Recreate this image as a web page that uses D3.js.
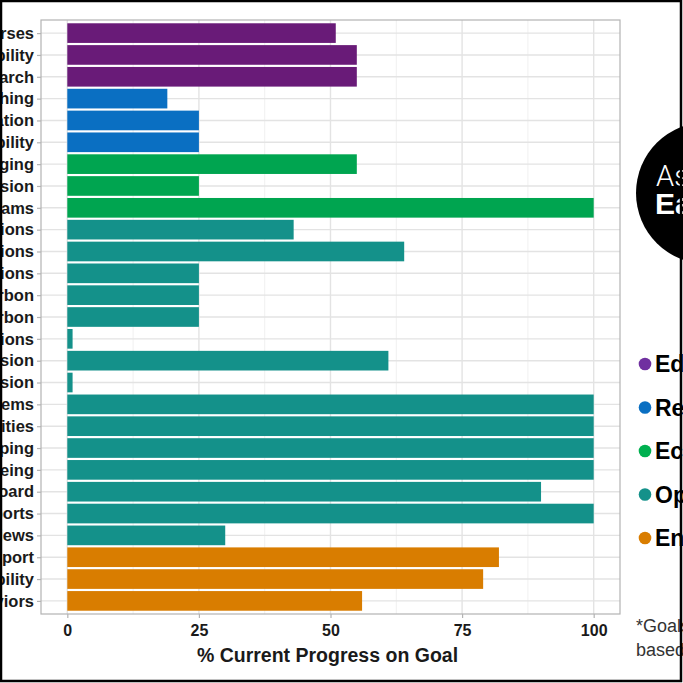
<!DOCTYPE html>
<html><head><meta charset="utf-8">
<script src="https://cdn.jsdelivr.net/npm/d3@7"></script>
<style>body{margin:0;background:#fff}svg{display:block}</style>
</head><body>
<script>
const categories = [
  "Sustainability Courses","Research Capability","Sustainability Research",
  "Campus Teaching","Staff Education","Community Accessibility",
  "Stakeholder Engaging","Public Outreach Expansion","Engagement Programs",
  "Building Operations","Energy Conversions","Water Consumptions",
  "Embodied Carbon","Operational Carbon","Fleet Emissions",
  "Renewable Expansion","Grid Emission Expansion","Waste Systems",
  "Green Facilities","Sustainable Shipping","Community Wellbeing",
  "Progress Dashboard","Annual Reports","Stakeholder Reviews",
  "Investment Support","Financial Capability","Responsible Investing Behaviors"
];
const groups = [
  "Education","Education","Education",
  "Research","Research","Research",
  "Economic","Economic","Economic",
  "Operations","Operations","Operations","Operations","Operations","Operations",
  "Operations","Operations","Operations","Operations","Operations","Operations",
  "Operations","Operations","Operations",
  "Endowment","Endowment","Endowment"
];
const values = [51,55,55,19,25,25,55,25,100,43,64,25,25,25,1,61,1,100,100,100,100,90,100,30,82,79,56];
const legendNames = ["Education","Research","Economic","Operations","Endowment"];
const barColors = ["#691b78","#0a6fc2","#00a550","#14918a","#d97d00"];
const dotColors = ["#7030a0","#0a6fc2","#00b050","#14918a","#d97d00"];
const xTicks = [0,25,50,75,100];
const xMinor = [12.5,37.5,62.5,87.5];

const W=683,H=683;
const FONT="Liberation Sans, Arial, sans-serif";
const svg=d3.select("body").append("svg").attr("width",W).attr("height",H);
const P={l:41,r:620,t:20,b:614};
const x=d3.scaleLinear().domain([-5,105]).range([P.l,P.r]);
const y=d3.scalePoint().domain(categories).range([P.t,P.b]).padding(0.6);
const step=y.step();
const color=d3.scaleOrdinal().domain(legendNames).range(barColors);
const dcolor=d3.scaleOrdinal().domain(legendNames).range(dotColors);

svg.append("rect").attr("x",P.l).attr("y",P.t).attr("width",P.r-P.l).attr("height",P.b-P.t).attr("fill","#fff");
// grid
svg.append("g").selectAll("line").data(xMinor).join("line")
  .attr("x1",d=>x(d)).attr("x2",d=>x(d)).attr("y1",P.t).attr("y2",P.b)
  .attr("stroke","#f0f0f0").attr("stroke-width",1);
svg.append("g").selectAll("line").data(xTicks).join("line")
  .attr("x1",d=>x(d)).attr("x2",d=>x(d)).attr("y1",P.t).attr("y2",P.b)
  .attr("stroke","#e3e3e3").attr("stroke-width",1.4);
svg.append("g").selectAll("line").data(categories).join("line")
  .attr("x1",P.l).attr("x2",P.r).attr("y1",d=>y(d)).attr("y2",d=>y(d))
  .attr("stroke","#e3e3e3").attr("stroke-width",1.4);
// bars
const bh=step*0.9;
svg.append("g").selectAll("rect").data(categories).join("rect")
  .attr("x",x(0)).attr("y",d=>y(d)-bh/2)
  .attr("width",(d,i)=>x(values[i])-x(0)).attr("height",bh)
  .attr("fill",(d,i)=>color(groups[i]));
// panel border
svg.append("rect").attr("x",P.l).attr("y",P.t).attr("width",P.r-P.l).attr("height",P.b-P.t)
  .attr("fill","none").attr("stroke","#b3b3b3").attr("stroke-width",1.2);
// axes
const ax=svg.append("g").attr("transform",`translate(0,${P.b})`)
  .call(d3.axisBottom(x).tickValues(xTicks).tickSize(4).tickPadding(4));
const ay=svg.append("g").attr("transform",`translate(${P.l},0)`)
  .call(d3.axisLeft(y).tickSize(4).tickPadding(3));
[ax,ay].forEach(a=>{
  a.select(".domain").remove();
  a.selectAll(".tick line").attr("stroke","#b3b3b3").attr("stroke-width",1.2);
  a.selectAll("text").attr("fill","#1a1a1a").style("font-family",FONT).style("font-weight","bold");
});
ay.selectAll("text").style("font-size","16.5px");
ax.selectAll("text").style("font-size","16px").attr("dy","0.85em");
svg.append("text").attr("x",(x(-5)+x(105))/2-3).attr("y",662).attr("text-anchor","middle")
  .style("font-family",FONT).style("font-weight","bold").style("font-size","19.5px")
  .attr("fill","#1a1a1a").text("% Current Progress on Goal");
// logo
svg.append("circle").attr("cx",707).attr("cy",193).attr("r",71).attr("fill","#000");
svg.append("text").attr("x",656).attr("y",186).attr("fill","#fff")
  .style("font-family","Roboto, Lato, sans-serif").style("font-weight","300").style("font-size","29px").text("As");
svg.append("text").attr("x",655).attr("y",214).attr("fill","#fff")
  .style("font-family",FONT).style("font-weight","bold").style("font-size","30px").text("Ea");
// legend
const lg=svg.append("g");
legendNames.forEach((n,i)=>{
  const cy=364+i*43.5;
  lg.append("circle").attr("cx",645).attr("cy",cy).attr("r",6.3).attr("fill",dcolor(n));
  lg.append("text").attr("x",655).attr("y",cy+8).attr("fill","#000")
    .style("font-family",FONT).style("font-weight","bold").style("font-size","23px").text(n);
});
// footnote
svg.append("text").attr("x",636).attr("y",632).attr("fill","#333")
  .style("font-family",FONT).style("font-size","18px").text("*Goals set");
svg.append("text").attr("x",636).attr("y",656).attr("fill","#333")
  .style("font-family",FONT).style("font-size","18px").text("based on");
// frame
svg.append("rect").attr("x",1).attr("y",1).attr("width",680).attr("height",680)
  .attr("fill","none").attr("stroke","#000").attr("stroke-width",2.5);
</script>
</body></html>
